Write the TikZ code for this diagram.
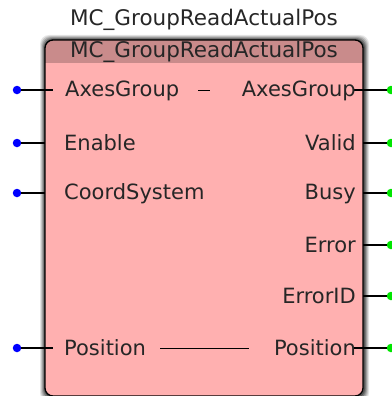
\documentclass[tikz,border=0pt]{standalone}
\usepackage{fontspec}
\setmainfont{DejaVu Sans}
\definecolor{bodypink}{HTML}{FFB0B0}
\definecolor{headpink}{HTML}{C98B8B}
\definecolor{pinblue}{HTML}{0000FF}
\definecolor{pingreen}{HTML}{00E600}
\begin{document}
\begin{tikzpicture}[x=1pt,y=-1pt,
  lbl/.style={font=\fontsize{21}{21}\selectfont, inner sep=0pt, text=black!85},
  ttl/.style={font=\fontsize{21.5}{21.5}\selectfont, inner sep=0pt, text=black!85},
  wire/.style={draw=black, line width=1.1pt},
  inpin/.style={circle, fill=pinblue, inner sep=0pt, minimum size=8.5pt},
  outpin/.style={circle, fill=pingreen, inner sep=0pt, minimum size=8.5pt}]
\useasboundingbox (0,0) rectangle (391,396);
% shadow
\foreach \d/\o in {5/0.10,4/0.14,3/0.18,2/0.24,1/0.30}{
  \fill[black, opacity=\o, rounded corners=9pt] (45-\d,40-\d) rectangle (364+\d,397+\d);
}
% body
\begin{scope}
\clip[rounded corners=8pt] (45,40) rectangle (363,396);
\fill[bodypink] (45,40) rectangle (363,396);
\fill[headpink] (45,40) rectangle (363,63);
\end{scope}
\draw[black, line width=1.3pt, rounded corners=8pt] (45,40) rectangle (363,396);
\node[ttl] (title) at (204,20) {MC\_GroupReadActualPos};
\node[ttl] (head) at (204,52) {MC\_GroupReadActualPos};
% inputs
\node[inpin] (i1) at (17,90) {};
\node[inpin] (i2) at (17,143) {};
\node[inpin] (i3) at (17,193) {};
\node[inpin] (i4) at (17,348) {};
\coordinate (e1) at (53,90);
\coordinate (e2) at (45,143);
\coordinate (e3) at (45,193);
\coordinate (e4) at (53,348);
\draw[wire] (i1) -- (e1);
\draw[wire] (i2) -- (e2);
\draw[wire] (i3) -- (e3);
\draw[wire] (i4) -- (e4);
\node[lbl, anchor=west] (a1) at (65,91) {AxesGroup};
\node[lbl, anchor=west] (a2) at (64,143) {Enable};
\node[lbl, anchor=west] (a3) at (64,194) {CoordSystem};
\node[lbl, anchor=west] (a4) at (64,348) {Position};
% outputs
\node[outpin] (o1) at (391,90) {};
\node[outpin] (o2) at (391,143) {};
\node[outpin] (o3) at (391,193) {};
\node[outpin] (o4) at (391,245) {};
\node[outpin] (o5) at (391,296) {};
\node[outpin] (o6) at (391,348) {};
\coordinate (f1) at (354,90);
\coordinate (f2) at (363,143);
\coordinate (f3) at (363,193);
\coordinate (f4) at (363,245);
\coordinate (f5) at (363,296);
\coordinate (f6) at (354,348);
\draw[wire] (f1) -- (o1);
\draw[wire] (f2) -- (o2);
\draw[wire] (f3) -- (o3);
\draw[wire] (f4) -- (o4);
\draw[wire] (f5) -- (o5);
\draw[wire] (f6) -- (o6);
\node[lbl, anchor=east] (b1) at (356,91) {AxesGroup};
\node[lbl, anchor=east] (b2) at (356,143) {Valid};
\node[lbl, anchor=east] (b3) at (356,194) {Busy};
\node[lbl, anchor=east] (b4) at (356,245) {Error};
\node[lbl, anchor=east] (b5) at (356,296) {ErrorID};
\node[lbl, anchor=east] (b6) at (356,348) {Position};
% through-links
\coordinate (d1) at (198,90);
\coordinate (d2) at (210,90);
\draw[wire, line width=1pt] (d1) -- (d2);
\coordinate (p1) at (160,348);
\coordinate (p2) at (249,348);
\draw[wire, line width=1pt] (p1) -- (p2);
\end{tikzpicture}
\end{document}
